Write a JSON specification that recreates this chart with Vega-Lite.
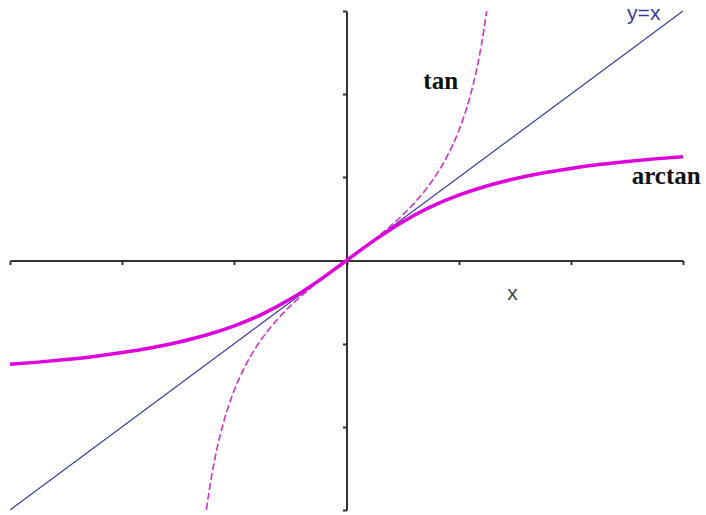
{
  "$schema": "https://vega.github.io/schema/vega-lite/v6.json",
  "autosize": {"type": "none"},
  "width": 673,
  "height": 499,
  "padding": {"left": 10, "top": 11, "right": 23, "bottom": 5},
  "background": "white",
  "config": {"view": {"stroke": null}},
  "datasets": {
    "tan": [
      {"x": -1.249, "y": -2.998}, {"x": -1.225, "y": -2.776}, {"x": -1.2, "y": -2.572},
      {"x": -1.175, "y": -2.393}, {"x": -1.15, "y": -2.235}, {"x": -1.1, "y": -1.965},
      {"x": -1.05, "y": -1.743}, {"x": -1.0, "y": -1.557}, {"x": -0.9, "y": -1.260},
      {"x": -0.8, "y": -1.030}, {"x": -0.7, "y": -0.842}, {"x": -0.6, "y": -0.684},
      {"x": -0.5, "y": -0.546}, {"x": -0.4, "y": -0.423}, {"x": -0.3, "y": -0.309},
      {"x": -0.2, "y": -0.203}, {"x": -0.1, "y": -0.100}, {"x": 0, "y": 0},
      {"x": 0.1, "y": 0.100}, {"x": 0.2, "y": 0.203}, {"x": 0.3, "y": 0.309},
      {"x": 0.4, "y": 0.423}, {"x": 0.5, "y": 0.546}, {"x": 0.6, "y": 0.684},
      {"x": 0.7, "y": 0.842}, {"x": 0.8, "y": 1.030}, {"x": 0.9, "y": 1.260},
      {"x": 1.0, "y": 1.557}, {"x": 1.05, "y": 1.743}, {"x": 1.1, "y": 1.965},
      {"x": 1.15, "y": 2.235}, {"x": 1.175, "y": 2.393}, {"x": 1.2, "y": 2.572},
      {"x": 1.225, "y": 2.776}, {"x": 1.249, "y": 2.998}
    ],
    "arctan": [
      {"x": -3, "y": -1.249}, {"x": -2.75, "y": -1.222}, {"x": -2.5, "y": -1.190},
      {"x": -2.25, "y": -1.153}, {"x": -2, "y": -1.107}, {"x": -1.75, "y": -1.052},
      {"x": -1.5, "y": -0.983}, {"x": -1.25, "y": -0.896}, {"x": -1, "y": -0.785},
      {"x": -0.75, "y": -0.644}, {"x": -0.5, "y": -0.464}, {"x": -0.25, "y": -0.245},
      {"x": 0, "y": 0}, {"x": 0.25, "y": 0.245}, {"x": 0.5, "y": 0.464},
      {"x": 0.75, "y": 0.644}, {"x": 1, "y": 0.785}, {"x": 1.25, "y": 0.896},
      {"x": 1.5, "y": 0.983}, {"x": 1.75, "y": 1.052}, {"x": 2, "y": 1.107},
      {"x": 2.25, "y": 1.153}, {"x": 2.5, "y": 1.190}, {"x": 2.75, "y": 1.222},
      {"x": 3, "y": 1.249}
    ],
    "identity": [{"x": -3, "y": -3}, {"x": 3, "y": 3}],
    "seriflabels": [
      {"x": 0.84, "y": 2.06, "label": "tan"},
      {"x": 2.85, "y": 0.92, "label": "arctan"}
    ],
    "sanslabels": [
      {"x": 2.65, "y": 2.89, "label": "y=x", "c": "navy"},
      {"x": 1.48, "y": -0.47, "label": "x", "c": "gray"}
    ]
  },
  "encoding": {
    "x": {
      "field": "x", "type": "quantitative",
      "scale": {"domain": [-3, 3], "nice": false, "zero": false},
      "axis": {
        "orient": "bottom", "offset": -249.5, "labels": false, "title": null,
        "grid": false, "values": [-3, -2, -1, 0, 1, 2, 3],
        "domainColor": "#333333", "domainWidth": 2, "tickColor": "#333333",
        "tickWidth": 2, "tickSize": 4
      }
    },
    "y": {
      "field": "y", "type": "quantitative",
      "scale": {"domain": [-3, 3], "nice": false, "zero": false},
      "axis": {
        "orient": "left", "offset": -336.5, "labels": false, "title": null,
        "grid": false, "values": [-3, -2, -1, 0, 1, 2, 3],
        "domainColor": "#333333", "domainWidth": 2, "tickColor": "#333333",
        "tickWidth": 2, "tickSize": 4
      }
    }
  },
  "layer": [
    {
      "data": {"name": "identity"},
      "mark": {"type": "line", "color": "#3a3aa0", "strokeWidth": 1.2, "clip": true}
    },
    {
      "data": {"name": "tan"},
      "mark": {"type": "line", "color": "#cc33cc", "strokeWidth": 1.6, "strokeDash": [7, 3], "interpolate": "monotone", "clip": true}
    },
    {
      "data": {"name": "arctan"},
      "mark": {"type": "line", "color": "#dd00dd", "strokeWidth": 3.5, "interpolate": "monotone", "clip": true}
    },
    {
      "data": {"name": "seriflabels"},
      "mark": {"type": "text", "font": "Liberation Serif", "fontWeight": "bold", "fontSize": 25, "baseline": "alphabetic", "align": "center", "color": "#111111"},
      "encoding": {"text": {"field": "label"}}
    },
    {
      "data": {"name": "sanslabels"},
      "mark": {"type": "text", "font": "Liberation Sans", "fontSize": 21, "baseline": "alphabetic", "align": "center"},
      "encoding": {
        "text": {"field": "label"},
        "color": {"field": "c", "type": "nominal", "scale": {"domain": ["navy", "gray"], "range": ["#3a3aa0", "#444444"]}, "legend": null}
      }
    }
  ]
}
